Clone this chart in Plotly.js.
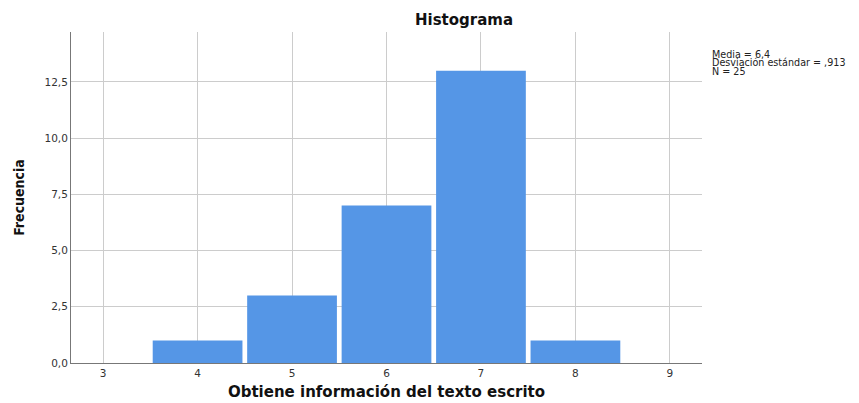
<!DOCTYPE html>
<html>
<head>
<meta charset="utf-8">
<script src="https://cdn.plot.ly/plotly-3.0.1.min.js"></script>
<style>html,body{margin:0;padding:0;background:#fff;}#chart{width:859px;height:403px;}</style>
</head>
<body>
<div id="chart"></div>
<script>
const binCenters = [4, 5, 6, 7, 8];
const frequencies = [1, 3, 7, 13, 1];
const xTicks = [3, 4, 5, 6, 7, 8, 9];
const yTicks = [0, 2.5, 5, 7.5, 10, 12.5];
const statsLines = ['Media = 6,4', 'Desviación estándar = ,913', 'N = 25'];

const font = 'DejaVu Sans, Liberation Sans, Arial, sans-serif';

const trace = {
  type: 'bar',
  x: binCenters,
  y: frequencies,
  width: 0.95,
  marker: {color: '#5596e6', line: {width: 0}},
  hoverinfo: 'x+y'
};

const annotations = statsLines.map((t, i) => ({
  text: t,
  xref: 'paper', yref: 'paper',
  x: (710 - 71) / 631, y: (363 - (54 + i * 8.8)) / 331,
  xanchor: 'left', yanchor: 'middle',
  showarrow: false,
  font: {family: font, size: 9.6, color: '#222'}
}));

const layout = {
  width: 859, height: 403,
  margin: {l: 71, r: 157, t: 32, b: 40},
  paper_bgcolor: '#fff', plot_bgcolor: '#fff',
  separators: ',.',
  showlegend: false,
  title: {
    text: '<b>Histograma</b>',
    xref: 'container', yref: 'container',
    x: 464 / 859, y: 1 - 20 / 403, xanchor: 'center', yanchor: 'middle',
    font: {family: font, size: 15, color: '#111'}
  },
  xaxis: {
    range: [2.66, 9.34],
    tickmode: 'array', tickvals: xTicks, ticktext: xTicks.map(String),
    showgrid: true, gridcolor: '#cccccc', gridwidth: 1,
    zeroline: false,
    showline: true, linecolor: '#777', linewidth: 1,
    ticks: '', ticklen: 0,
    tickfont: {family: font, size: 10.5, color: '#333'},
    title: {text: '<b>Obtiene información del texto escrito</b>', standoff: 8,
            font: {family: font, size: 15, color: '#111'}}
  },
  yaxis: {
    range: [0, 14.72],
    tickmode: 'array', tickvals: yTicks, tickformat: '.1f',
    showgrid: true, gridcolor: '#cccccc', gridwidth: 1,
    zeroline: false,
    showline: true, linecolor: '#777', linewidth: 1,
    ticks: '', ticklen: 0,
    tickfont: {family: font, size: 10.5, color: '#333'},
    title: {text: '<b>Frecuencia</b>', standoff: 16,
            font: {family: 'Liberation Sans Narrow, DejaVu Sans Condensed, Liberation Sans, sans-serif', size: 14, color: '#111'}}
  },
  annotations: annotations
};

Plotly.newPlot('chart', [trace], layout, {displayModeBar: false, staticPlot: true});
</script>
</body>
</html>
